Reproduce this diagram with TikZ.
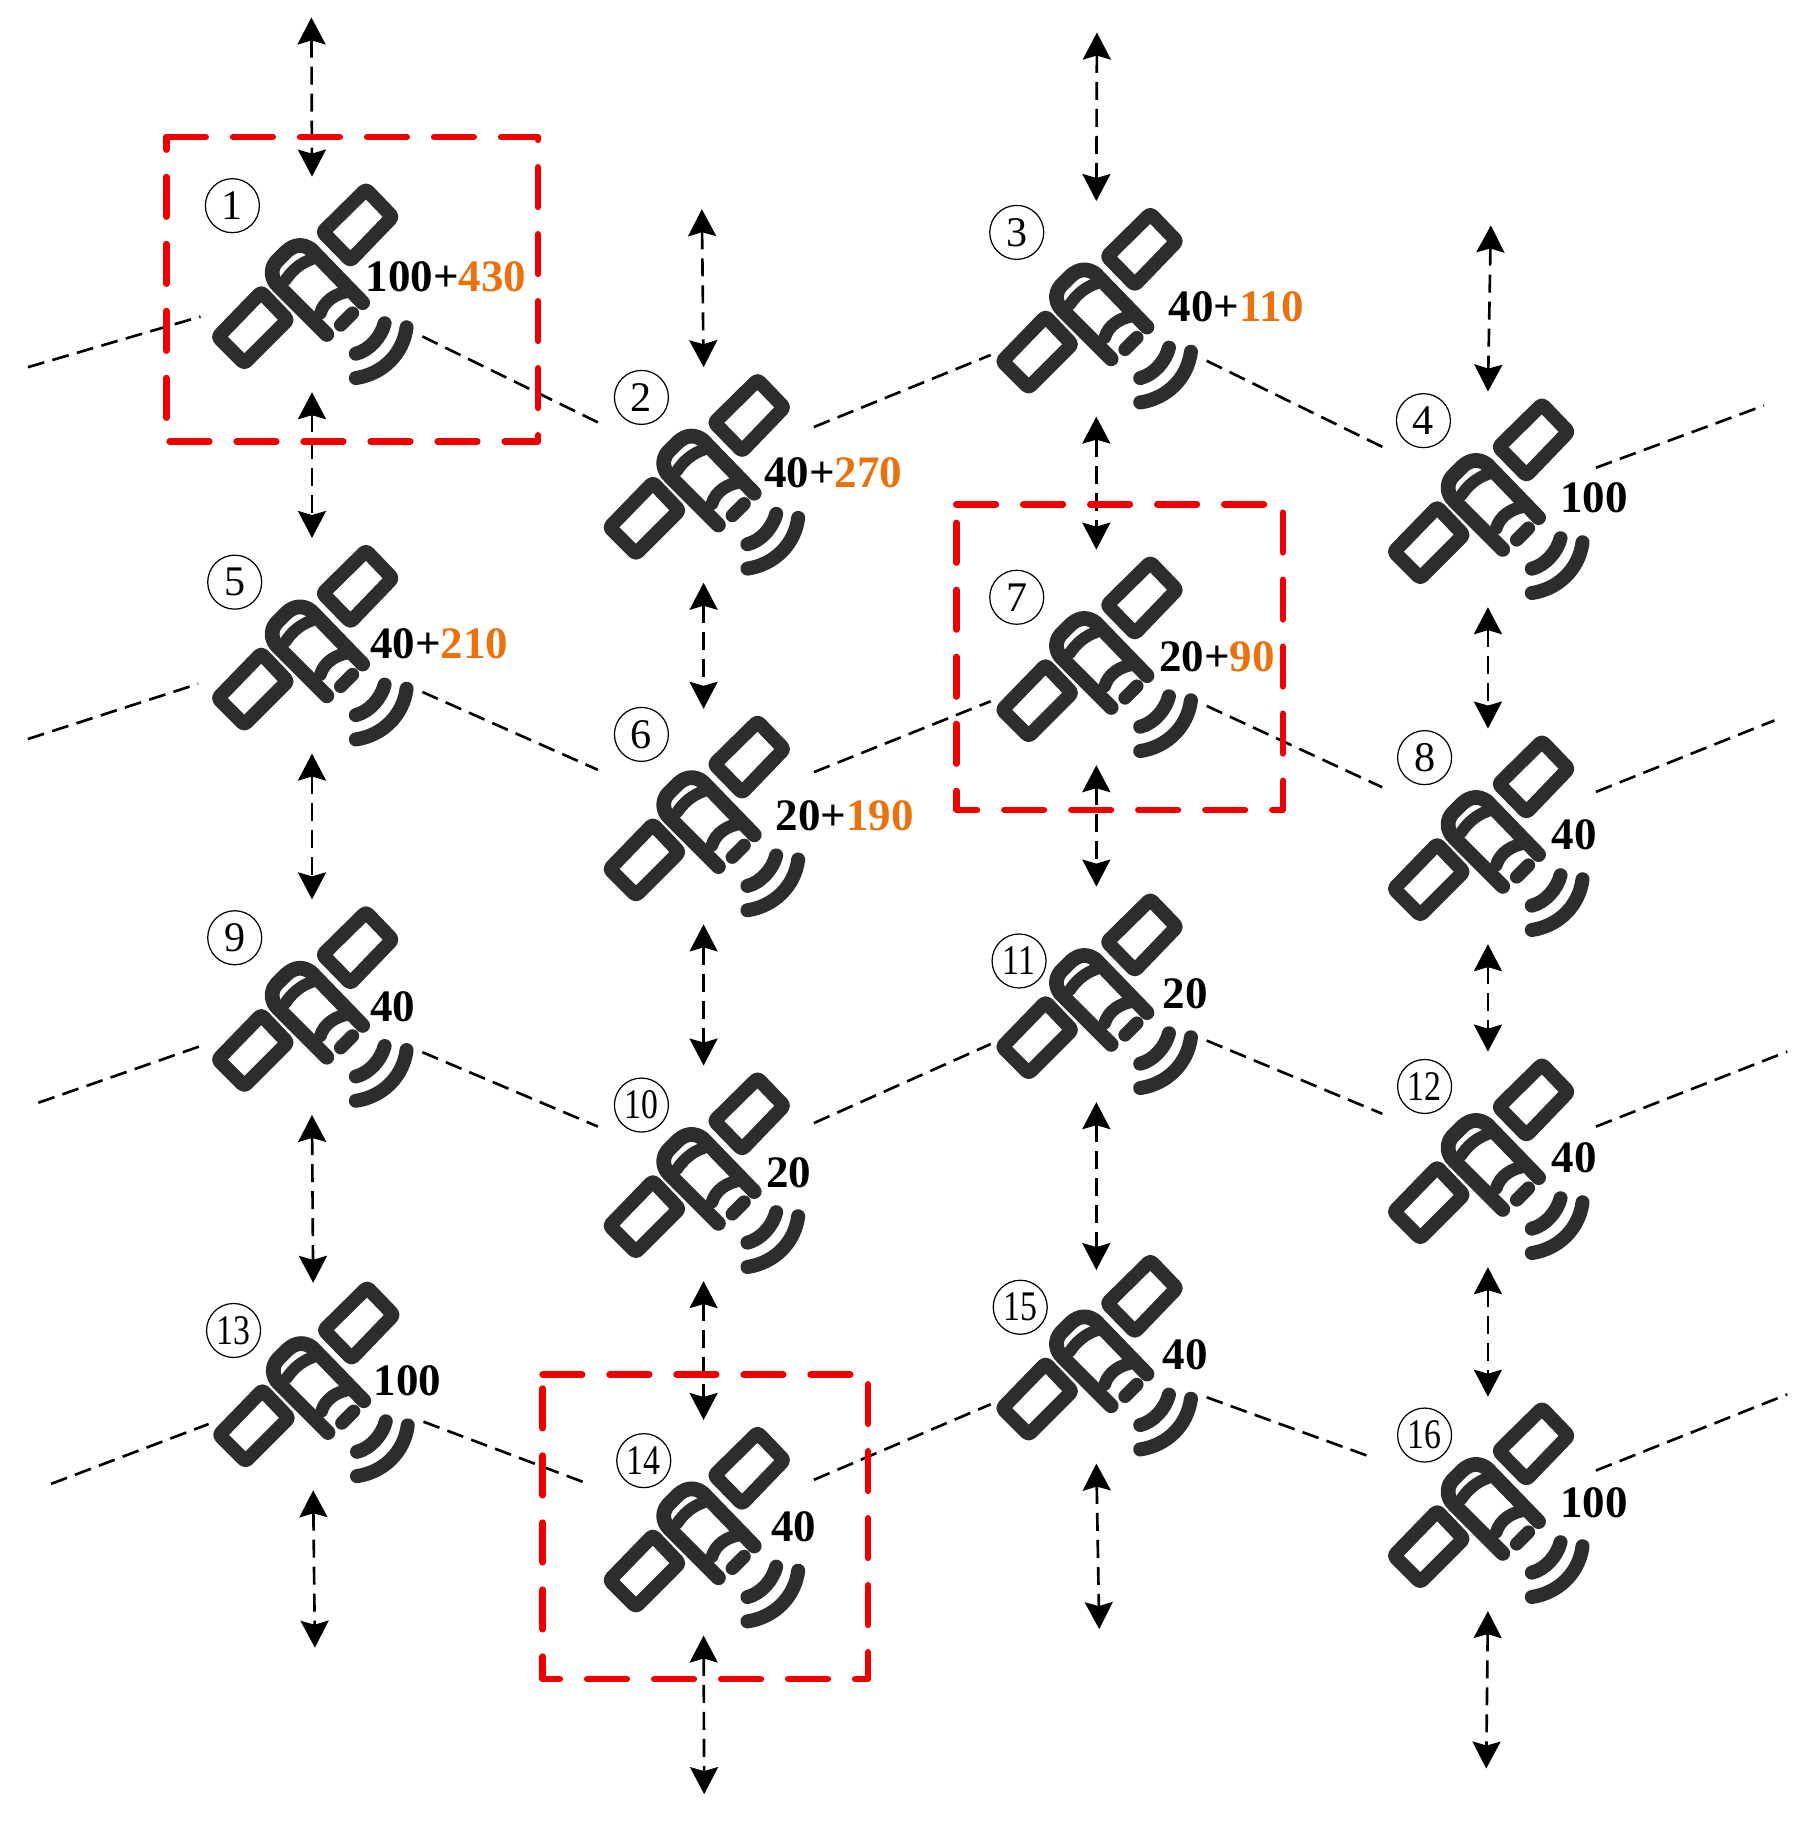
\documentclass[tikz,border=0pt]{standalone}
\usepackage{xcolor}
\usepackage{fontspec}
\setmainfont{Liberation Serif}
\usetikzlibrary{calc}
\usetikzlibrary{arrows.meta}

\definecolor{satgray}{HTML}{2D2D2D}
\definecolor{loadorange}{HTML}{E9720E}
\definecolor{boxred}{HTML}{EE0000}
\newcommand{\nar}[1]{\scalebox{0.8}[1]{#1}}
\newcommand{\ext}[1]{\textcolor{loadorange}{#1}}

\tikzset{
  satellite/.pic={
    \begin{scope}[x=0.0338mm,y=-0.0338mm,shift={(-650,-195)},color=satgray,line cap=round,line join=round]
      % panels
      \draw [line width=4pt,rounded corners=0.8pt] (650,214) -- (728,295) -- (604,424) -- (522,340) -- cycle;
      \draw [line width=4pt,rounded corners=0.8pt] (340,518) -- (418,600) -- (290,728) -- (212,650) -- cycle;
      % body
      \draw [line width=4.2pt] (640,549) -- (488,392) .. controls (465,375) and (440,375) .. (415,397) -- (385,427)
      .. controls (365,450) and (370,480) .. (389,498) -- (534,643);
      \draw [line width=3.4pt] (412,482) .. controls (430,455) and (455,432) .. (490,420);
      \draw [line width=3.6pt] (515,580) .. controls (525,545) and (560,520) .. (605,515);
      \draw [line width=3.8pt] (575,615) -- (610,580);
      % waves
      \draw [line width=4pt] (620,700) .. controls (660,690) and (695,650) .. (705,610);
      \draw [line width=4pt] (620,772) .. controls (700,760) and (760,700) .. (770,622);
    \end{scope}
  },
  satbox/.style={minimum width=21.46mm,minimum height=10.2mm,inner sep=0pt},
  numc/.style={draw,circle,line width=0.35pt,minimum size=5.4mm,inner sep=0pt,font=\fontsize{12}{12}\selectfont},
  load/.style={anchor=west,inner sep=0pt,font=\fontsize{12.8}{12.8}\selectfont\bfseries},
  link/.style={dashed,dash pattern=on 1.7mm off 0.85mm,line width=0.75pt},
  updown/.style={{Stealth[length=2.7mm,width=2.8mm,inset=0.4mm]}-{Stealth[length=2.7mm,width=2.8mm,inset=0.4mm]},dash pattern=on 1.8mm off 0.9mm,line width=0.75pt},
  redbox/.style={draw=boxred,line width=1.9pt,line cap=round,line join=round,dash pattern=on 3.95mm off 2.75mm}
}

\begin{document}
\begin{tikzpicture}[x=0.1162mm,y=-0.1162mm]
  \useasboundingbox (0,0) rectangle (1551.6,1568);

  % satellites, given by the top corner of the upper panel
  \foreach \n/\x/\y in {1/313/160,2/650/324,3/988/181,4/1325/345,5/313/471,6/650/618,7/988/481,8/1325/635,
    9/313/782,10/650/925,11/988/771,12/1325/913,13/314/1105,14/650/1230,15/988/1082,16/1325/1209} {
    \pic at (\x+2,\y-2.5) {satellite};
    \node [satbox] (s\n) at (\x-42.5,\y+85) {};
    \coordinate (u\n) at (\x-44.5,\y-8);
    \coordinate (d\n) at (\x-44.5,\y+177.5);
  }

  % numbers
  \foreach \n/\x/\y/\t in {1/200/177/1,2/552/342/2,3/875/200/3,4/1225/362/4,5/202/501/5,6/552/632/6,7/875/514/7,
    8/1226/652/8,9/202/807/9,10/552/951/\nar{10},11/877/827/\nar{11},12/1226/935/\nar{12},13/201/1145/\nar{13},
    14/554/1257/\nar{14},15/878/1125/\nar{15},16/1226/1235/\nar{16}}
  \node [numc] (n\n) at (\x,\y) {\t};

  % loads
  \node [load] (l1) at (314,238) {100+\ext{430}};
  \node [load] (l2) at (657,407) {40+\ext{270}};
  \node [load] (l3) at (1005,264) {40+\ext{110}};
  \node [load] (l4) at (1342,428) {100};
  \node [load] (l5) at (318,554) {40+\ext{210}};
  \node [load] (l6) at (667,702) {20+\ext{190}};
  \node [load] (l7) at (997,565) {20+\ext{90}};
  \node [load] (l8) at (1335,718) {40};
  \node [load] (l9) at (318,866) {40};
  \node [load] (l10) at (659,1009) {20};
  \node [load] (l11) at (1000,855) {20};
  \node [load] (l12) at (1335,996) {40};
  \node [load] (l13) at (321,1188) {100};
  \node [load] (l14) at (663,1314) {40};
  \node [load] (l15) at (1000,1166) {40};
  \node [load] (l16) at (1342,1293) {100};

  % links going down to the right
  \foreach \a/\b/\da/\dx/\db in {1/2/0/0/-1,3/4/0/0/-1,5/6/-5/0/4,7/8/-3/0/2,9/10/-6/0/4,11/12/-5/0/5,13/14/-11/-7/7,15/16/-9/-8/5}
  \draw [link] ($(s\a.south east)+(0,\da)$) -- ($(s\b.north west)+(\dx,\db)$);
  % links going up to the right
  \foreach \a/\b/\da/\db in {2/3/3/-5,6/7/6/-7,10/11/1/-2,14/15/3/-3}
  \draw [link] ($(s\a.north east)+(0,\da)$) -- ($(s\b.south west)+(0,\db)$);
  % free ends on the left and right
  \foreach \a/\x/\y/\da/\dx in {1/24/316/-17/-5,5/24/636/-12/-7,9/33/949/-13/0,13/44/1277/-9/1} {
    \coordinate (w\a) at (\x,\y);
    \draw [link] (w\a) -- ($(s\a.south west)+(\dx,\da)$);
  }
  \foreach \a/\x/\y/\da in {4/1518/349/17,8/1527/620/6,12/1538/905/16,16/1538/1200/16} {
    \coordinate (e\a) at (\x,\y);
    \draw [link] ($(s\a.north east)+(-2,\da)$) -- (e\a);
  }

  % vertical arrows
  \foreach \a/\b/\sh in {1/5/0,5/9/0,9/13/7,2/6/0,6/10/0,10/14/0,3/7/0,7/11/0,11/15/19,4/8/0,8/12/0,12/16/1}
  \draw [updown] (d\a) -- ($(u\b)+(0,\sh)$);
  \foreach \a/\x/\y in {1/268/15,2/604/180,3/944/28,4/1283/194} {
    \coordinate (t\a) at (\x,\y);
    \draw [updown] (t\a) -- (u\a);
  }
  \foreach \a/\x/\y in {13/271/1418,14/606/1544,15/946/1402,16/1279/1522} {
    \coordinate (b\a) at (\x,\y);
    \draw [updown] (d\a) -- (b\a);
  }

  % red boxes
  \foreach \xa/\ya/\xb/\yb in {143/118/463/380,823/434/1104/697,467/1183/747/1445}
  \draw [redbox] (\xa,\ya) -- (\xb,\ya) -- (\xb,\yb) -- (\xa,\yb) -- cycle;
\end{tikzpicture}
\end{document}
